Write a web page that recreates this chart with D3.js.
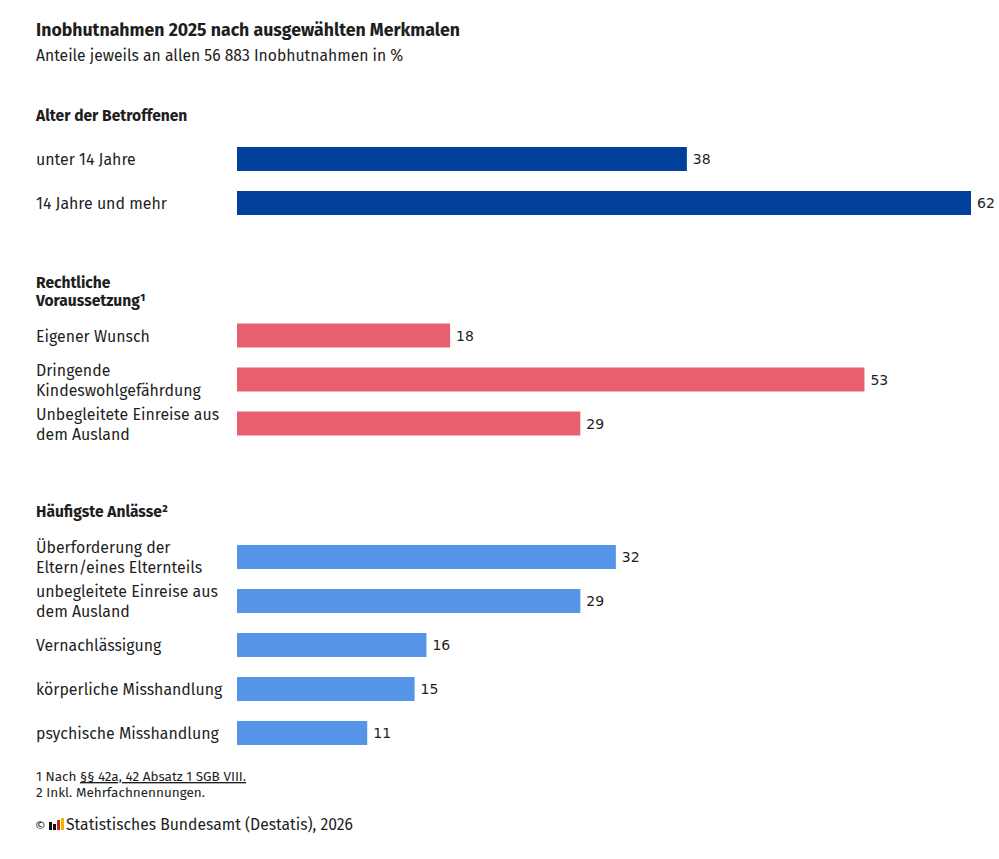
<!DOCTYPE html>
<html>
<head>
<meta charset="utf-8">
<script src="https://cdn.jsdelivr.net/npm/d3@7/dist/d3.min.js"></script>
<style>
  body { margin: 0; background: #fff; }
  svg text { font-family: "Fira Sans", Lato, "Open Sans", sans-serif; fill: #1e1e1e; }
  .title { font-size: 17.7px; font-weight: 700; }
  .sub { font-size: 15.7px; }
  .head { font-size: 15.6px; font-weight: 700; }
  .cat { font-size: 15.9px; }
  .val { font-size: 14px; font-family: "DejaVu Sans", sans-serif; }
  .note { font-size: 13.5px; }
  .copy { font-size: 15.7px; }
</style>
</head>
<body>
<svg width="999" height="859"></svg>
<script>
'use strict';

// data
var ageLabels = [['unter 14 Jahre'], ['14 Jahre und mehr']];
var ageValues = [38, 62];

var legalLabels = [['Eigener Wunsch'], ['Dringende', 'Kindeswohlgefährdung'], ['Unbegleitete Einreise aus', 'dem Ausland']];
var legalValues = [18, 53, 29];

var reasonLabels = [
    ['Überforderung der', 'Eltern/eines Elternteils'],
    ['unbegleitete Einreise aus', 'dem Ausland'],
    ['Vernachlässigung'],
    ['körperliche Misshandlung'],
    ['psychische Misshandlung']
];
var reasonValues = [32, 29, 16, 15, 11];

var sectionTitles = [['Alter der Betroffenen'], ['Rechtliche', 'Voraussetzung¹'], ['Häufigste Anlässe²']];

var svg = d3.select('svg');
var barStep = 44, barH = 24;

var x = d3.scaleLinear()
    .domain([0, 62])
    .range([237, 971]);

svg.append('text').attr('class', 'title').attr('x', 36).attr('y', 36)
    .text('Inobhutnahmen 2025 nach ausgewählten Merkmalen');
svg.append('text').attr('class', 'sub').attr('x', 36).attr('y', 61)
    .text('Anteile jeweils an allen 56 883 Inobhutnahmen in %');

var sections = [
    { title: sectionTitles[0], labels: ageLabels, values: ageValues, color: '#02419b', headY: 121, top: 147 },
    { title: sectionTitles[1], labels: legalLabels, values: legalValues, color: '#e8606f', headY: 288, top: 323.5 },
    { title: sectionTitles[2], labels: reasonLabels, values: reasonValues, color: '#5594e7', headY: 517, top: 545 }
];

sections.forEach(function (s) {
    var g = svg.append('g');
    var y = d3.scaleBand()
        .domain(d3.range(s.values.length))
        .range([s.top, s.top + barStep * s.values.length])
        .paddingInner(0)
        .paddingOuter(0);

    var head = g.append('text').attr('class', 'head').attr('x', 36).attr('y', s.headY);
    s.title.forEach(function (line, i) {
        head.append('tspan').attr('x', 36).attr('dy', i === 0 ? 0 : 18).text(line);
    });

    var rows = g.selectAll('g.row')
        .data(s.values)
        .enter()
        .append('g')
        .attr('class', 'row');

    rows.append('rect')
        .attr('x', x(0))
        .attr('y', function (d, i) { return y(i); })
        .attr('width', function (d) { return x(d) - x(0); })
        .attr('height', barH)
        .attr('fill', s.color);

    rows.append('text')
        .attr('class', 'val')
        .attr('x', function (d) { return x(d) + 6; })
        .attr('y', function (d, i) { return y(i) + barH / 2 + 5; })
        .text(function (d) { return d; });

    rows.append('text')
        .attr('class', 'cat')
        .attr('y', function (d, i) { return y(i) + barH / 2 + 6; })
        .each(function (d, i) {
            var lines = s.labels[i];
            var t = d3.select(this);
            lines.forEach(function (line, j) {
                t.append('tspan')
                    .attr('x', 36)
                    .attr('dy', j === 0 ? -(lines.length - 1) * 10 : 20)
                    .text(line);
            });
        });
});

// footnotes
var n1 = svg.append('text').attr('class', 'note').attr('x', 36).attr('y', 781);
n1.append('tspan').text('1 Nach ');
n1.append('tspan').attr('text-decoration', 'underline').text('§§ 42a, 42 Absatz 1 SGB VIII.');
svg.append('text').attr('class', 'note').attr('x', 36).attr('y', 797).text('2 Inkl. Mehrfachnennungen.');

// copyright line with small logo
svg.append('text').attr('class', 'copy').attr('x', 35).attr('y', 830).style('font-size', '13px').text('©');
var logo = svg.append('g').attr('transform', 'translate(49,818)');
logo.append('rect').attr('x', 0).attr('y', 4).attr('width', 3).attr('height', 8).attr('fill', '#111');
logo.append('rect').attr('x', 4).attr('y', 6).attr('width', 3).attr('height', 6).attr('fill', '#111');
logo.append('rect').attr('x', 8).attr('y', 2).attr('width', 3).attr('height', 10).attr('fill', '#d0202a');
logo.append('rect').attr('x', 12).attr('y', 0).attr('width', 3).attr('height', 12).attr('fill', '#f2b500');
svg.append('text').attr('class', 'copy').attr('x', 66).attr('y', 830)
    .text('Statistisches Bundesamt (Destatis), 2026');
</script>
</body>
</html>
